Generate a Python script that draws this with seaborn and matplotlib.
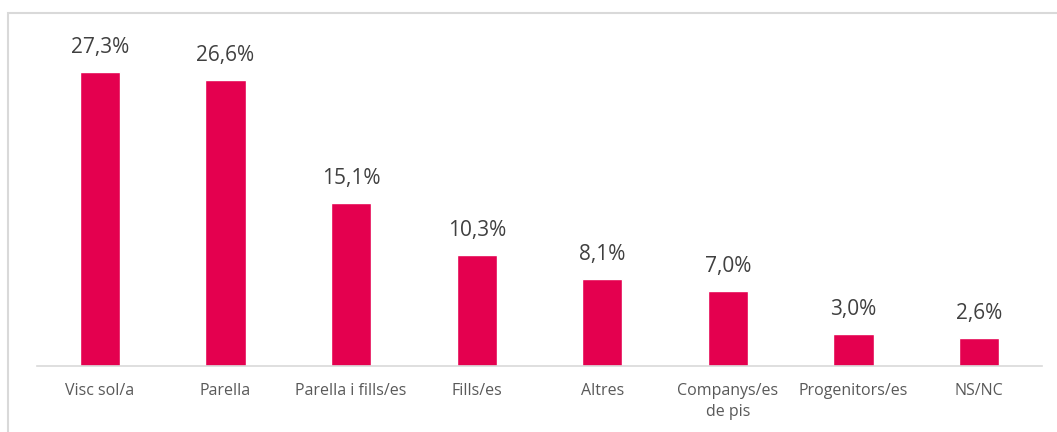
import matplotlib
matplotlib.use("Agg")
import matplotlib.pyplot as plt
import seaborn as sns
import pandas as pd
from matplotlib.patches import Rectangle

# --- data ---
categories = ['Visc sol/a', 'Parella', 'Parella i fills/es', 'Fills/es', 'Altres',
              'Companys/es\nde pis', 'Progenitors/es', 'NS/NC']
values = [27.3, 26.6, 15.1, 10.3, 8.1, 7.0, 3.0, 2.6]
value_labels = ['27,3%', '26,6%', '15,1%', '10,3%', '8,1%', '7,0%', '3,0%', '2,6%']

df = pd.DataFrame({'cat': categories, 'val': values})

sns.set_style('white')
plt.rcParams['font.family'] = ['Open Sans', 'DejaVu Sans']

W, H = 1057, 432
fig = plt.figure(figsize=(W / 100, H / 100), dpi=100)
# axes placed in pixel terms: x 37..1042, baseline at y=366
ax = fig.add_axes([37 / W, (H - 366) / H, (1042 - 37) / W, (366 - 40) / H])

bar_color = '#E4004F'
sns.barplot(data=df, x='cat', y='val', color=bar_color, width=0.32,
            saturation=1, ax=ax)

ax.set_xlim(-0.5, len(categories) - 0.5)
ax.set_ylim(0, (366 - 40) / 10.77)

for i, (v, lab) in enumerate(zip(values, value_labels)):
    ax.text(i, v + 1.3, lab, ha='center', va='bottom', fontsize=15, color='#404040')

ax.set_xlabel('')
ax.set_ylabel('')
ax.set_yticks([])
ax.tick_params(axis='x', length=0, pad=12, labelsize=11.5, labelcolor='#595959')
for t in ax.get_xticklabels():
    t.set_linespacing(1.45)
for s in ['top', 'right', 'left']:
    ax.spines[s].set_visible(False)
ax.spines['bottom'].set_color('#D9D9D9')
ax.spines['bottom'].set_linewidth(1.2)

# light grey chart-area frame
fig.patches.append(Rectangle((8 / W, -0.1), 1.2, (H - 13 + 43) / H,
                             transform=fig.transFigure, fill=False,
                             edgecolor='#D9D9D9', linewidth=1.5))

fig.savefig('out.png', dpi=100)
